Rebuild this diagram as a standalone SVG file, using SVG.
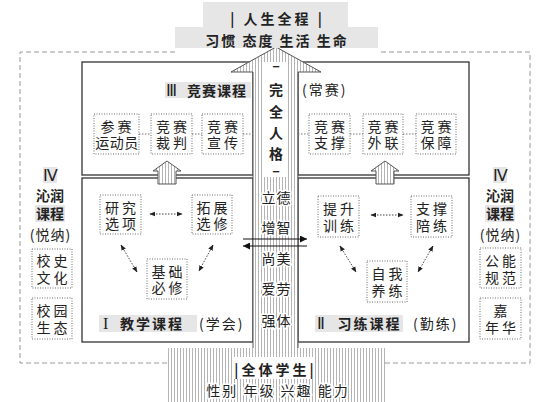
<svg xmlns="http://www.w3.org/2000/svg" width="550" height="402" viewBox="0 0 550 402">
<defs>
<pattern id="st" width="3" height="4" patternUnits="userSpaceOnUse"><rect width="3" height="4" fill="#fff"/><rect width="1" height="4" fill="#b4b4b4"/></pattern>
<marker id="dh" viewBox="0 0 10 10" refX="9" refY="5" markerWidth="6" markerHeight="6" orient="auto-start-reverse" markerUnits="userSpaceOnUse"><path d="M0,1 L10,5 L0,9 z" fill="#222"/></marker>
<marker id="ca" viewBox="0 0 10 10" refX="10" refY="5" markerWidth="8" markerHeight="7" orient="auto" markerUnits="userSpaceOnUse"><path d="M0,0 L10,5 L0,10 z" fill="#111"/></marker>
<style>
.nb{fill:#fff;stroke:#6a6a6a;stroke-width:1;stroke-dasharray:1 1.5}
.box{fill:#fff;stroke:#333;stroke-width:1.3}
.t{font-family:"Noto Sans CJK SC",sans-serif;font-size:14px;fill:#222;text-anchor:middle}
.ts{font-family:"Noto Sans CJK SC",sans-serif;font-size:14px;fill:#222;text-anchor:start}
.b{font-weight:bold}
.hl{fill:#e6e6e6}
.rom{font-family:"Liberation Serif",serif;fill:#222}
.dc{stroke:#777;stroke-width:1;stroke-dasharray:1.5 1.5;fill:none}
.da{stroke:#444;stroke-width:1;stroke-dasharray:1.5 1.5;fill:none;marker-start:url(#dh);marker-end:url(#dh)}
.halo{stroke:#fff;stroke-width:3;paint-order:stroke}
.arr{fill:url(#st);stroke:#555;stroke-width:1}
</style>
</defs>

<!-- outer dashed frame -->
<path d="M175,52 H20 V363 H167 M385,363 H530 V52 H378" fill="none" stroke="#9a9a9a" stroke-width="1" stroke-dasharray="5 3"/>

<!-- course boxes -->
<g id="box-III">
<rect class="box" x="82" y="62" width="171" height="113"/>
<rect class="box" x="298" y="62" width="171" height="113"/>
</g>
<g id="box-I"><rect class="box" x="82" y="178" width="171" height="164"/></g>
<g id="box-II"><rect class="box" x="298" y="178" width="171" height="164"/></g>

<!-- central arrow and base -->
<g id="center-arrow">
<polygon class="arr" points="276,47 321,72 298,72 298,349 253,349 253,72 231,72"/>
<rect x="167" y="348" width="218" height="54" fill="url(#st)"/>
<rect x="264" y="62" width="23" height="115" fill="#fff"/>
<text class="t b" x="276" y="71" font-size="14">–</text>
<text class="t b" x="276" y="95" font-size="19">完</text>
<text class="t b" x="276" y="116.5" font-size="19">全</text>
<text class="t b" x="276" y="138" font-size="19">人</text>
<text class="t b" x="276" y="159" font-size="19">格</text>
<text class="t b" x="276" y="176" font-size="14">–</text>
<text class="t halo" x="276.5" y="202.5" font-size="15" letter-spacing="1">立德</text>
<text class="t halo" x="276.5" y="232.5" font-size="15" letter-spacing="1">增智</text>
<text class="t halo" x="276.5" y="263.5" font-size="15" letter-spacing="1">尚美</text>
<text class="t halo" x="276.5" y="293.5" font-size="15" letter-spacing="1">爱劳</text>
<text class="t halo" x="276.5" y="325.5" font-size="15" letter-spacing="1">强体</text>
</g>

<!-- top title -->
<g id="title">
<rect class="hl" x="203" y="2" width="145" height="25"/>
<rect class="hl" x="175" y="27" width="203" height="21"/>
<text class="t b" x="277.5" y="24" font-size="19" letter-spacing="3" xml:space="preserve">| 人生全程 |</text>
<text class="t b" x="277" y="46" font-size="15" letter-spacing="2">习惯 态度 生活 生命</text>
</g>

<!-- bottom base -->
<g id="base">
<rect x="233" y="357" width="82" height="22" fill="#fff"/>
<text class="t b" x="275.5" y="375" font-size="18" letter-spacing="3">|全体学生|</text>
<text class="t halo" x="278" y="396" font-size="15" letter-spacing="2">性别 年级 兴趣 能力</text>
</g>

<!-- small up arrows -->
<g id="up-left"><polygon class="arr" points="167,161 181,171 176,171 176,184 158,184 158,171 153,171"/></g>
<g id="up-right"><polygon class="arr" points="385,161 399,171 394,171 394,184 376,184 376,171 371,171"/></g>

<!-- connectors -->
<g id="connectors">
<path class="dc" d="M139,134 H151 M192,134 H202 M243,134 H253 M298,134 H309 M350,134 H363 M403,134 H416"/>
<line class="da" x1="150" y1="214" x2="182" y2="214"/>
<line class="da" x1="121" y1="245" x2="137" y2="272"/>
<line class="da" x1="213" y1="245" x2="199" y2="271"/>
<line class="da" x1="371" y1="215" x2="403" y2="215"/>
<line class="da" x1="340" y1="246" x2="356" y2="272"/>
<line class="da" x1="433" y1="246" x2="418" y2="272"/>
<line x1="243" y1="239" x2="307" y2="239" stroke="#111" stroke-width="1" marker-end="url(#ca)"/>
<line x1="307" y1="246" x2="243" y2="246" stroke="#111" stroke-width="1" marker-end="url(#ca)"/>
</g>

<!-- III labels -->
<g id="label-III">
<rect class="hl" x="165" y="82" width="86" height="16"/>
<text class="rom" x="166" y="96" font-size="16">Ⅲ</text>
<text class="t b" x="217" y="96" font-size="15" letter-spacing="1">竞赛课程</text>
<text class="ts" x="302" y="95" font-size="13" letter-spacing="2">(常赛)</text>
</g>

<g id="n-cansai"><rect class="nb" x="94" y="114" width="45" height="40"/><text class="t"><tspan x="117.5" y="132" letter-spacing="3">参赛</tspan><tspan x="117" y="148" letter-spacing="0.5">运动员</tspan></text></g>
<g id="n-caipan"><rect class="nb" x="151" y="114" width="41" height="40"/><text class="t" letter-spacing="3"><tspan x="173" y="132">竞赛</tspan><tspan x="173" y="148">裁判</tspan></text></g>
<g id="n-xuanchuan"><rect class="nb" x="202" y="114" width="41" height="40"/><text class="t" letter-spacing="3"><tspan x="224" y="132">竞赛</tspan><tspan x="224" y="148">宣传</tspan></text></g>
<g id="n-zhicheng"><rect class="nb" x="309" y="114" width="41" height="40"/><text class="t" letter-spacing="3"><tspan x="331" y="132">竞赛</tspan><tspan x="331" y="148">支撑</tspan></text></g>
<g id="n-wailian"><rect class="nb" x="363" y="114" width="40" height="40"/><text class="t" letter-spacing="3"><tspan x="384.5" y="132">竞赛</tspan><tspan x="384.5" y="148">外联</tspan></text></g>
<g id="n-baozhang"><rect class="nb" x="416" y="114" width="40" height="40"/><text class="t" letter-spacing="3"><tspan x="437.5" y="132">竞赛</tspan><tspan x="437.5" y="148">保障</tspan></text></g>

<!-- I -->
<g id="n-yanjiu"><rect class="nb" x="100" y="195" width="41" height="39"/><text class="t" letter-spacing="3"><tspan x="122" y="213">研究</tspan><tspan x="122" y="229">选项</tspan></text></g>
<g id="n-tuozhan"><rect class="nb" x="192" y="195" width="40" height="39"/><text class="t" letter-spacing="3"><tspan x="213.5" y="213">拓展</tspan><tspan x="213.5" y="229">选修</tspan></text></g>
<g id="n-jichu"><rect class="nb" x="147" y="259" width="40" height="40"/><text class="t" letter-spacing="3"><tspan x="168.5" y="277">基础</tspan><tspan x="168.5" y="293">必修</tspan></text></g>
<g id="label-I">
<rect class="hl" x="99" y="315" width="98" height="17"/>
<text class="rom" x="103" y="329" font-size="16">I</text>
<text class="t b" x="152" y="329" font-size="15" letter-spacing="2">教学课程</text>
<text class="ts" x="199" y="329" font-size="14" letter-spacing="2">(学会)</text>
</g>

<!-- II -->
<g id="n-tisheng"><rect class="nb" x="318" y="196" width="41" height="41"/><text class="t" letter-spacing="3"><tspan x="340" y="214">提升</tspan><tspan x="340" y="231">训练</tspan></text></g>
<g id="n-peilian"><rect class="nb" x="411" y="196" width="41" height="41"/><text class="t" letter-spacing="3"><tspan x="433" y="214">支撑</tspan><tspan x="433" y="231">陪练</tspan></text></g>
<g id="n-ziwo"><rect class="nb" x="367" y="261" width="40" height="41"/><text class="t" letter-spacing="3"><tspan x="388.5" y="279">自我</tspan><tspan x="388.5" y="296">养练</tspan></text></g>
<g id="label-II">
<rect class="hl" x="315" y="315" width="88" height="17"/>
<text class="rom" x="317" y="329" font-size="16">Ⅱ</text>
<text class="t b" x="369.5" y="329" font-size="15" letter-spacing="2">习练课程</text>
<text class="ts" x="413" y="329" font-size="14" letter-spacing="2">(勤练)</text>
</g>

<!-- IV left -->
<g id="label-IV-left">
<rect class="hl" x="43" y="167" width="14" height="16"/>
<rect class="hl" x="35" y="205" width="30" height="17"/>
<text class="rom" x="50" y="181" font-size="16" text-anchor="middle">Ⅳ</text>
<text class="t b" font-size="15"><tspan x="50" y="201">沁润</tspan><tspan x="50" y="219">课程</tspan></text>
<text class="t" x="50.5" y="240" font-size="14" letter-spacing="1">(悦纳)</text>
</g>
<g id="n-xiaoshi"><rect class="nb" x="32" y="249" width="40" height="39"/><text class="t" letter-spacing="3"><tspan x="53.5" y="266">校史</tspan><tspan x="53.5" y="283">文化</tspan></text></g>
<g id="n-xiaoyuan"><rect class="nb" x="32" y="298" width="40" height="41"/><text class="t" letter-spacing="3"><tspan x="53.5" y="316">校园</tspan><tspan x="53.5" y="333">生态</tspan></text></g>

<!-- IV right -->
<g id="label-IV-right">
<rect class="hl" x="493" y="167" width="14" height="16"/>
<rect class="hl" x="485" y="205" width="30" height="17"/>
<text class="rom" x="500" y="181" font-size="16" text-anchor="middle">Ⅳ</text>
<text class="t b" font-size="15"><tspan x="500" y="201">沁润</tspan><tspan x="500" y="219">课程</tspan></text>
<text class="t" x="500.5" y="240" font-size="14" letter-spacing="1">(悦纳)</text>
</g>
<g id="n-gongneng"><rect class="nb" x="480" y="248" width="41" height="40"/><text class="t" letter-spacing="3"><tspan x="502" y="266">公能</tspan><tspan x="502" y="283">规范</tspan></text></g>
<g id="n-jianianhua"><rect class="nb" x="480" y="298" width="41" height="41"/><text class="t"><tspan x="500.5" y="316">嘉</tspan><tspan x="502" y="333" letter-spacing="3">年华</tspan></text></g>
</svg>
